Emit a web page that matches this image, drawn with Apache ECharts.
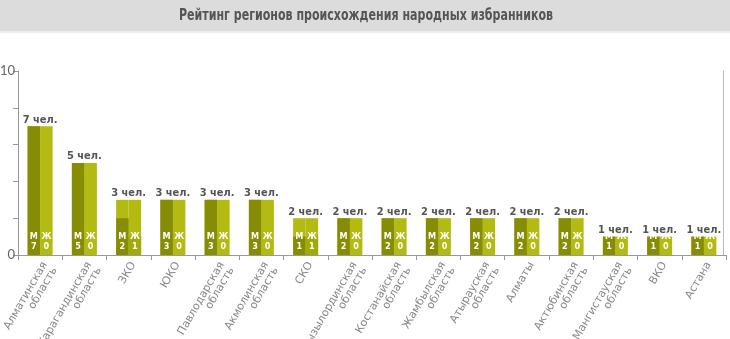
<!DOCTYPE html>
<html><head><meta charset="utf-8">
<script src="https://cdn.jsdelivr.net/npm/echarts@6/dist/echarts.min.js"></script>
<style>html,body{margin:0;padding:0;background:#fff}#c{width:730px;height:339px}</style>
</head><body><div id="c"></div>
<script>
var categories = ['Алматинская\nобласть','Карагандинская\nобласть','ЗКО','ЮКО','Павлодарская\nобласть','Акмолинская\nобласть','СКО','Кызылординская\nобласть','Костанайская\nобласть','Жамбылская\nобласть','Атырауская\nобласть','Алматы','Актюбинская\nобласть','Мангистауская\nобласть','ВКО','Астана'];
var totals = [7,5,3,3,3,3,2,2,2,2,2,2,2,1,1,1];
var men    = [7,5,2,3,3,3,1,2,2,2,2,2,2,1,1,1];
var women  = [0,0,1,0,0,0,1,0,0,0,0,0,0,0,0,0];
var yTicks = [0,10];

var cLight = '#b3bb12', cMen = '#878c05', cWomen = '#a2aa0b';
var half = 12.5;
var narrow = 'DejaVu Sans Condensed, sans-serif';
function hidX(){return {type:'category',data:categories,show:false,gridIndex:0};}
var chart = echarts.init(document.getElementById('c'));
chart.setOption({
  animation:false,
  graphic:[
    {type:'rect',shape:{x:0,y:0,width:730,height:31},style:{fill:'#dcdcdc'},z:0},
    {type:'rect',shape:{x:0,y:31,width:730,height:2},style:{fill:'#ececec'},z:0},
    {type:'text',x:366,y:16,scaleX:0.82,scaleY:1.08,z:10,
      style:{text:'Рейтинг регионов происхождения народных избранников',fontFamily:narrow,fontWeight:'bold',fontSize:15,
        fill:'#555',textAlign:'center',textVerticalAlign:'middle'}}
  ],
  grid:{left:18,right:4,top:71,bottom:84,containLabel:false,outerBoundsMode:'none'},
  xAxis:[
    {type:'category',data:categories,
      axisLine:{lineStyle:{color:'#999'}},
      axisTick:{show:true,alignWithLabel:false,length:5,lineStyle:{color:'#999'}},
      axisLabel:{rotate:60,interval:0,fontSize:11,lineHeight:11,color:'#888',margin:5,verticalAlign:'top',
        fontFamily:'DejaVu Sans, sans-serif'}},
    hidX(),hidX(),hidX()
  ],
  yAxis:[
    {type:'value',min:0,max:10,interval:2,
      axisLine:{show:true,lineStyle:{color:'#999'}},
      axisTick:{show:true,length:5,lineStyle:{color:'#999'}},
      splitLine:{show:false},
      axisLabel:{fontSize:13,color:'#666',margin:3,fontFamily:'Lato, sans-serif',
        formatter:function(v){return yTicks.indexOf(v)>=0?String(v):'';}}},
    {type:'value',min:0,max:10,interval:2,position:'right',offset:-3,
      axisLine:{show:true,lineStyle:{color:'#bbb'}},axisTick:{show:false},axisLabel:{show:false},splitLine:{show:false}}
  ],
  series:[
    {type:'bar',xAxisIndex:0,data:totals,barWidth:half,barGap:'0%',itemStyle:{color:cLight},z:2},
    {type:'bar',xAxisIndex:0,data:totals,barWidth:half,barGap:'0%',itemStyle:{color:cLight},z:2},
    {type:'bar',xAxisIndex:1,data:men,barWidth:half,barGap:'0%',itemStyle:{color:cMen},z:3},
    {type:'bar',xAxisIndex:1,data:women,barWidth:half,barGap:'0%',itemStyle:{color:cWomen},z:3},
    {type:'bar',xAxisIndex:2,data:totals,barWidth:half,barGap:'0%',itemStyle:{color:'rgba(0,0,0,0)'},z:4,
      label:{show:true,position:'insideBottom',distance:3,color:'#fff',fontWeight:'bold',fontSize:9,lineHeight:10,
        fontFamily:narrow,
        formatter:function(p){return 'М\n'+men[p.dataIndex];}}},
    {type:'bar',xAxisIndex:2,data:totals,barWidth:half,barGap:'0%',itemStyle:{color:'rgba(0,0,0,0)'},z:4,
      label:{show:true,position:'insideBottom',distance:3,color:'#fff',fontWeight:'bold',fontSize:9,lineHeight:10,
        fontFamily:narrow,
        formatter:function(p){return 'Ж\n'+women[p.dataIndex];}}},
    {type:'bar',xAxisIndex:3,data:totals,barWidth:half*2,itemStyle:{color:'rgba(0,0,0,0)'},z:5,
      label:{show:true,position:'top',distance:1,color:'#555',fontWeight:'bold',fontSize:11,
        fontFamily:narrow,
        formatter:function(p){return p.value+' чел.';}}}
  ]
});
</script></body></html>
